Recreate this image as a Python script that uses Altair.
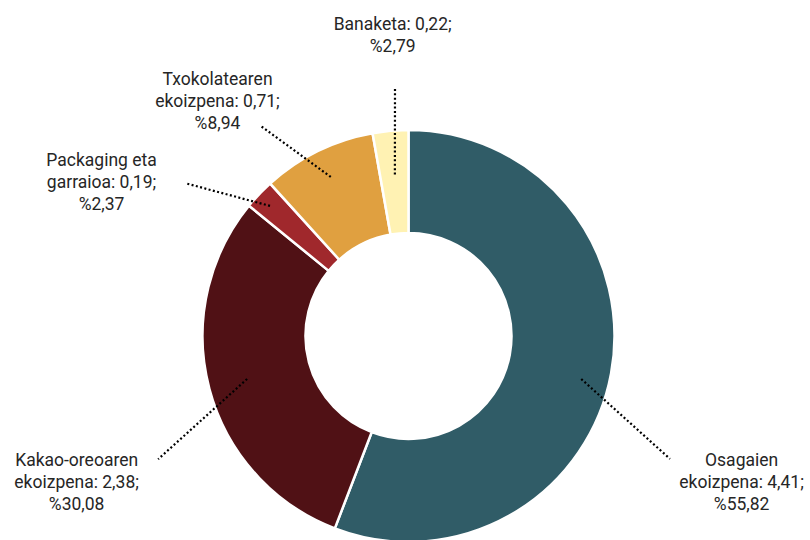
import math
import altair as alt
import pandas as pd

# ---- data ----
categories = ["Osagaien ekoizpena", "Kakao-oreoaren ekoizpena", "Packaging eta garraioa",
              "Txokolatearen ekoizpena", "Banaketa"]
values = [4.41, 2.38, 0.19, 0.71, 0.22]
percents = [55.82, 30.08, 2.37, 8.94, 2.79]
colors = ["#305C67", "#501115", "#A0282C", "#E0A040", "#FFF2B3"]

# ---- layout (polar offsets from each slice's mid-angle, in degrees / pixels) ----
start_da = [3.5, 0.0, -0.3, 0.1, 0.2]
start_r = [178, 167, 190, 177, 162]
end_da = [14.7, -11.3, -9.0, -9.0, 1.9]
end_r = [289, 279, 269, 257, 248]
lab_da = [13.3, -9.0, -17.0, -13.1, 2.0]
lab_r = [364, 363, 343, 302, 300]
LINE_H = 22


def fmt(v, d=2):
    return f"{v:.{d}f}".replace(".", ",")


rows = []
cum = 0.0
for i, (c, v, p) in enumerate(zip(categories, values, percents)):
    mid = (cum + p / 2) / 100 * 360
    cum += p
    name = "\n".join(c.rsplit(" ", 1))
    label = f"{name}: {fmt(v)};\n%{fmt(p)}"
    n_lines = label.count("\n") + 1

    def pt(da, r):
        a = math.radians(mid + da)
        return r * math.sin(a), r * math.cos(a)

    sx, sy = pt(start_da[i], start_r[i])
    ex, ey = pt(end_da[i], end_r[i])
    lx, ly = pt(lab_da[i], lab_r[i])
    ly += (n_lines - 1) * LINE_H / 2  # first line position of a centred block
    rows.append(dict(cat=c, value=v, pct=p, order=i, label=label,
                     sx=sx, sy=sy, ex=ex, ey=ey, lx=lx, ly=ly))

df = pd.DataFrame(rows)

W, H = 600, 400
xs = alt.Scale(domain=[-W / 2, W / 2])
ys = alt.Scale(domain=[-H / 2, H / 2])

arc = alt.Chart(df).mark_arc(outerRadius=206, innerRadius=103, stroke="white", strokeWidth=2.5).encode(
    theta=alt.Theta("pct:Q", stack=True),
    order=alt.Order("order:Q"),
    color=alt.Color("cat:N", scale=alt.Scale(domain=categories, range=colors), legend=None),
)

lines = alt.Chart(df).mark_rule(color="black", strokeWidth=2.2, strokeDash=[2, 2.4]).encode(
    x=alt.X("sx:Q", scale=xs, axis=None),
    y=alt.Y("sy:Q", scale=ys, axis=None),
    x2="ex:Q",
    y2="ey:Q",
)

texts = alt.Chart(df).mark_text(fontSize=17.5, font="Roboto", color="#262626", lineBreak="\n",
                                lineHeight=LINE_H, align="center", baseline="middle").encode(
    x=alt.X("lx:Q", scale=xs, axis=None),
    y=alt.Y("ly:Q", scale=ys, axis=None),
    text="label:N",
)

chart = alt.layer(arc, lines, texts).properties(
    width=W, height=H,
    padding={"left": 108.5, "right": 101.5, "top": 136, "bottom": 4},
    autosize=alt.AutoSizeParams(type="none"),
    background="white",
).configure_view(stroke=None)

chart.save("out.html", embed_options={"renderer": "svg", "actions": False})
